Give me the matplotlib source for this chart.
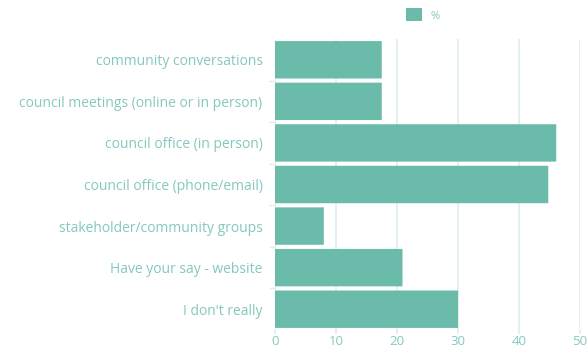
import matplotlib.pyplot as plt
from matplotlib.patches import FancyBboxPatch

categories = [
    "community conversations",
    "council meetings (online or in person)",
    "council office (in person)",
    "council office (phone/email)",
    "stakeholder/community groups",
    "Have your say - website",
    "I don't really",
]
percent = [17.5, 17.5, 46.1, 44.8, 8.0, 20.9, 30.0]
x_ticks = [0, 10, 20, 30, 40, 50]

bar_color = "#6bbbab"
text_color = "#85c8bf"
grid_color = "#dcefec"

plt.rcParams["font.family"] = ["Open Sans", "DejaVu Sans"]

fig = plt.figure(figsize=(5.87, 3.48), dpi=100)
ax = fig.add_axes([275 / 587, 1 - 330 / 348, 305 / 587, 291 / 348])

y = list(range(len(categories)))
bars = ax.barh(y, percent, height=0.9, color=bar_color, zorder=3)

# swap plain rectangles for slightly rounded ones
for rect in bars.patches:
    rect.set_visible(False)
    ax.add_patch(FancyBboxPatch(
        (rect.get_x(), rect.get_y()), rect.get_width(), rect.get_height(),
        boxstyle="round,pad=0,rounding_size=0.05",
        mutation_aspect=0.12,
        facecolor=bar_color, edgecolor="none", zorder=3))

ax.set_xlim(0, 50)
ax.set_ylim(len(categories) - 0.5, -0.5)
ax.set_xticks(x_ticks)
ax.set_yticks(y)
ax.set_yticklabels(categories)
ax.set_yticks([i + 0.5 for i in y[:-1]], minor=True)

ax.grid(axis="x", color=grid_color, linewidth=1.2, zorder=0)
for s in ax.spines.values():
    s.set_visible(False)

ax.tick_params(axis="x", colors=grid_color, labelcolor=text_color,
               length=3, width=1.2, labelsize=9.5, pad=0.5)
ax.tick_params(axis="y", which="major", length=0, labelcolor=text_color,
               labelsize=10, pad=9)
ax.tick_params(axis="y", which="minor", length=4, width=1,
               colors=grid_color)

fig.legend([FancyBboxPatch((0, 0), 1, 1, facecolor=bar_color, edgecolor="none")],
           ["%"], loc="center", bbox_to_anchor=(423 / 587, 1 - 15 / 348),
           frameon=False, handlelength=1.4, handleheight=1.4,
           fontsize=8, labelcolor=text_color, handletextpad=0.8)

fig.savefig("out.png", dpi=100)
